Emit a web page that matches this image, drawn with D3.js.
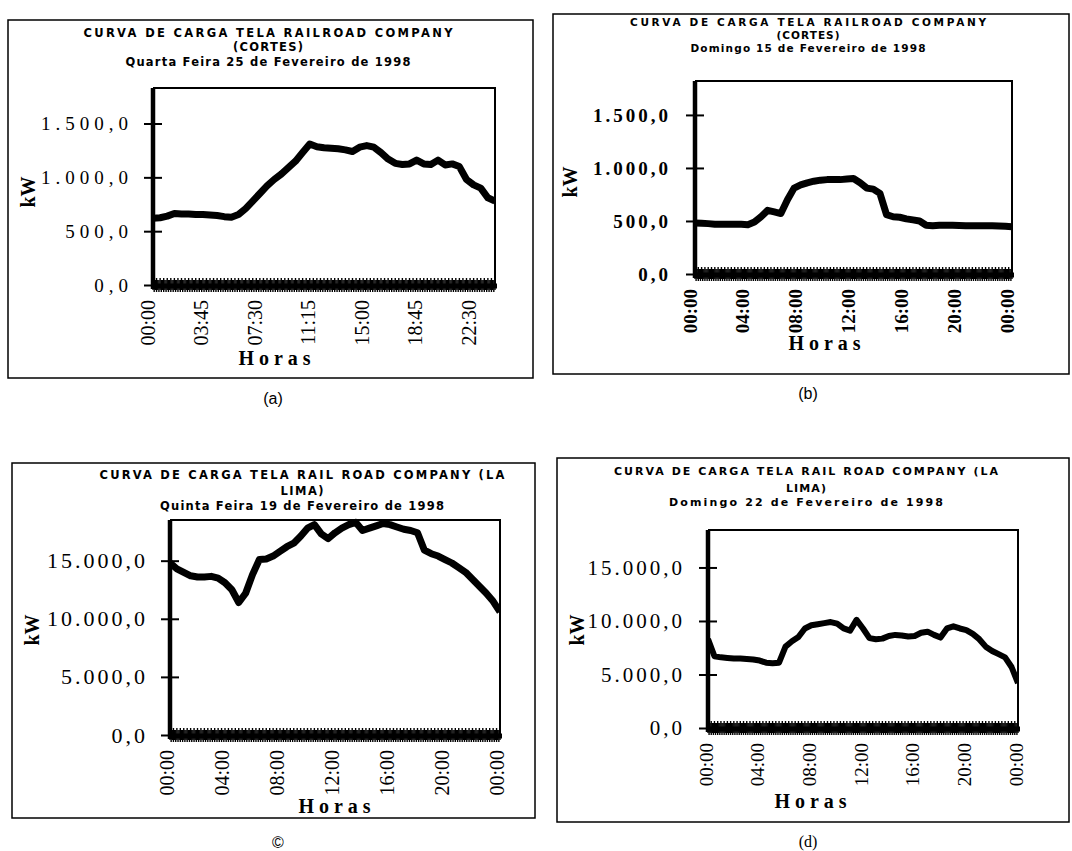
<!DOCTYPE html>
<html>
<head>
<meta charset="utf-8">
<script src="https://cdn.jsdelivr.net/npm/d3@7"></script>
<style>
  body { margin: 0; background: #fff; }
  text { fill: #000; }
</style>
</head>
<body>
<div id="chart"></div>
<script>
// Half-hour categories of the load curves
var horas = ["00:00","00:30","01:00","01:30","02:00","02:30","03:00","03:30","04:00","04:30",
  "05:00","05:30","06:00","06:30","07:00","07:30","08:00","08:30","09:00","09:30",
  "10:00","10:30","11:00","11:30","12:00","12:30","13:00","13:30","14:00","14:30",
  "15:00","15:30","16:00","16:30","17:00","17:30","18:00","18:30","19:00","19:30",
  "20:00","20:30","21:00","21:30","22:00","22:30","23:00","23:30","24:00"];

// kW values
var cargaA = [620,625,640,665,660,660,655,655,650,645,635,630,655,710,780,850,920,980,1030,1090,
  1150,1230,1310,1285,1275,1270,1265,1255,1240,1280,1295,1280,1230,1170,1130,1120,1125,1160,1125,1120,
  1160,1115,1125,1100,980,930,900,810,780];
var cargaB = [480,478,475,470,470,470,470,468,465,490,540,600,585,570,700,810,840,860,875,885,
  890,890,890,895,900,860,810,800,760,560,540,535,520,510,500,460,455,460,460,460,
  458,455,455,455,455,455,452,450,445];
var cargaC = [14800,14300,14000,13700,13600,13600,13650,13500,13100,12500,11400,12200,13800,15100,15150,15400,15800,16200,16500,17100,
  17800,18100,17300,16900,17400,17800,18100,18300,17600,17800,18000,18200,18100,17900,17700,17600,17400,15900,15600,15400,
  15100,14800,14400,14000,13400,12800,12200,11500,10600];
var cargaD = [8300,6700,6600,6550,6500,6500,6450,6400,6300,6100,6050,6100,7600,8100,8500,9300,9600,9700,9800,9900,
  9750,9300,9100,10100,9300,8400,8300,8350,8600,8700,8650,8550,8600,8900,9000,8700,8450,9300,9500,9300,
  9150,8800,8300,7600,7200,6900,6600,5700,4200];

// Tick labels
var xTicksA = [0, 3.75, 7.5, 11.25, 15, 18.75, 22.5];
var xLabelsA = ["00:00","03:45","07:30","11:15","15:00","18:45","22:30"];
var xTicksDia = [0, 4, 8, 12, 16, 20, 24];
var xLabelsDia = ["00:00","04:00","08:00","12:00","16:00","20:00","00:00"];
var yTicksCortes = [0, 500, 1000, 1500];
var yTicksLima = [0, 5000, 10000, 15000];

var titulosA = ["CURVA DE CARGA TELA RAILROAD COMPANY", "(CORTES)", "Quarta Feira 25 de Fevereiro de 1998"];
var titulosB = ["CURVA DE CARGA TELA RAILROAD COMPANY", "(CORTES)", "Domingo 15 de Fevereiro de 1998"];
var titulosC = ["CURVA DE CARGA TELA RAIL ROAD COMPANY (LA", "LIMA)", "Quinta Feira 19 de Fevereiro de 1998"];
var titulosD = ["CURVA DE CARGA TELA RAIL ROAD COMPANY (LA", "LIMA)", "Domingo 22 de Fevereiro de 1998"];

var horaNum = horas.map(function(s) { return +s.slice(0, 2) + (+s.slice(3)) / 60; });

var fmt = d3.formatLocale({decimal: ",", thousands: ".", grouping: [3], currency: ["", ""]}).format(",.1f");

var svg = d3.select("#chart").append("svg")
  .attr("width", 1072)
  .attr("height", 851);

// layout of each panel
var paineis = [
  {id: "a", dados: cargaA, titulos: titulosA, xTicks: xTicksA, xLabels: xLabelsA, yTicks: yTicksCortes, ymax: 1830,
   box: [8, 20, 533, 378], plot: [153, 88, 495, 285], tx: 268, ty: [37, 51, 66], tw: [369, 70, 285], tfs: 11.5,
   yfs: 19, ybold: false, yls: 5, ygap: 20, xfs: 20, xbold: false, xoff: -5,
   horas: [277, 365], kw: [28, 192], cap: "(a)", capPos: [273, 404], capFont: "Liberation Sans", sw: 7},
  {id: "b", dados: cargaB, titulos: titulosB, xTicks: xTicksDia, xLabels: xLabelsDia, yTicks: yTicksCortes, ymax: 1820,
   box: [553, 14, 1069, 374], plot: [695, 81, 1012, 274], tx: 808, ty: [26, 39, 52], tw: [356, 63, 235], tfs: 10.5,
   yfs: 19, ybold: true, yls: 3, ygap: 24, xfs: 19, xbold: true, xoff: -5,
   horas: [827, 350], kw: [570, 182], cap: "(b)", capPos: [808, 399], capFont: "Liberation Sans", sw: 7},
  {id: "c", dados: cargaC, titulos: titulosC, xTicks: xTicksDia, xLabels: xLabelsDia, yTicks: yTicksLima, ymax: 18500,
   box: [12, 463, 535, 818], plot: [170, 520, 500, 735], tx: 302, ty: [479, 495, 510], tw: [405, 43, 284], tfs: 11.5,
   yfs: 22, ybold: false, yls: 3, ygap: 22, xfs: 20, xbold: false, xoff: -3,
   horas: [337, 813], kw: [32, 630], cap: "\u00a9", capPos: [278, 848], capFont: "Liberation Sans", sw: 7},
  {id: "d", dados: cargaD, titulos: titulosD, xTicks: xTicksDia, xLabels: xLabelsDia, yTicks: yTicksLima, ymax: 18500,
   box: [557, 458, 1069, 822], plot: [708, 530, 1018, 728], tx: 806, ty: [475, 492, 506], tw: [384, 40, 274], tfs: 11,
   yfs: 21, ybold: false, yls: 3, ygap: 23, xfs: 19, xbold: false, xoff: -2,
   horas: [813, 808], kw: [577, 630], cap: "(d)", capPos: [808, 847], capFont: "Liberation Serif", sw: 6}
];

paineis.forEach(function(p) {
  var g = svg.append("g");
  var L = p.plot[0], T = p.plot[1], R = p.plot[2], B = p.plot[3];

  // outer frame
  g.append("rect")
    .attr("x", p.box[0]).attr("y", p.box[1])
    .attr("width", p.box[2] - p.box[0]).attr("height", p.box[3] - p.box[1])
    .attr("fill", "none").attr("stroke", "#000").attr("stroke-width", 1.5);

  // titles
  g.selectAll(".titulo").data(p.titulos).enter().append("text")
    .attr("x", p.tx)
    .attr("y", function(d, i) { return p.ty[i]; })
    .attr("text-anchor", "middle")
    .attr("font-family", "DejaVu Sans")
    .attr("font-weight", "bold")
    .attr("font-size", p.tfs)
    .attr("textLength", function(d, i) { return p.tw[i]; })
    .attr("lengthAdjust", "spacing")
    .text(function(d) { return d; });

  var x = d3.scaleLinear().domain([0, 24]).range([L, R]);
  var y = d3.scaleLinear().domain([0, p.ymax]).range([B, T]);

  // plot frame
  g.append("path")
    .attr("d", "M" + L + "," + T + "H" + R + "V" + B)
    .attr("fill", "none").attr("stroke", "#000").attr("stroke-width", 2);

  // clip for the series
  svg.append("clipPath").attr("id", "clip" + p.id)
    .append("rect").attr("x", L).attr("y", T - 2).attr("width", R - L).attr("height", B - T + 2);

  var linha = d3.line()
    .x(function(d, i) { return x(horaNum[i]); })
    .y(function(d) { return y(d); });

  g.append("path")
    .datum(p.dados)
    .attr("clip-path", "url(#clip" + p.id + ")")
    .attr("d", linha)
    .attr("fill", "none")
    .attr("stroke", "#000")
    .attr("stroke-width", p.sw)
    .attr("stroke-linejoin", "round");

  // dense hatched base line
  g.append("line").attr("x1", L).attr("x2", R + 2).attr("y1", B + 1).attr("y2", B + 1)
    .attr("stroke", "#000").attr("stroke-width", 5);
  g.selectAll(".hatch").data(d3.range(0, 24.001, 1 / 12)).enter().append("line")
    .attr("x1", function(d) { return x(d); }).attr("x2", function(d) { return x(d); })
    .attr("y1", function(d, i) { return B - (i % 3 ? 5 : 7); })
    .attr("y2", function(d, i) { return B + (i % 2 ? 7 : 5); })
    .attr("stroke", "#000").attr("stroke-width", 1.4);

  // y axis with crossing ticks
  var yAxis = g.append("g")
    .attr("transform", "translate(" + L + ",0)")
    .call(d3.axisLeft(y).tickValues(p.yTicks).tickFormat(fmt).tickSize(8));
  yAxis.select(".domain").remove();
  yAxis.selectAll(".tick line").attr("x1", -9).attr("x2", 9).attr("stroke-width", 2);
  yAxis.selectAll(".tick text")
    .attr("x", -p.ygap)
    .attr("font-family", "Liberation Serif")
    .attr("font-size", p.yfs)
    .attr("font-weight", p.ybold ? "bold" : "normal")
    .style("letter-spacing", p.yls + "px");
  g.append("line").attr("x1", L).attr("x2", L).attr("y1", T).attr("y2", B + 4)
    .attr("stroke", "#000").attr("stroke-width", 4.5);

  // rotated time labels
  g.selectAll(".xlab").data(p.xTicks).enter().append("text")
    .attr("transform", function(d) { return "translate(" + (x(d) + p.xoff) + "," + (B + 15) + ") rotate(-90)"; })
    .attr("text-anchor", "end")
    .attr("dominant-baseline", "central")
    .attr("font-family", "Liberation Serif")
    .attr("font-size", p.xfs)
    .attr("font-weight", p.xbold ? "bold" : "normal")
    .text(function(d, i) { return p.xLabels[i]; });

  // axis titles
  g.append("text")
    .attr("x", p.horas[0]).attr("y", p.horas[1])
    .attr("text-anchor", "middle")
    .attr("font-family", "Liberation Serif").attr("font-weight", "bold").attr("font-size", 20)
    .style("letter-spacing", "5px")
    .text("Horas");

  g.append("text")
    .attr("transform", "translate(" + p.kw[0] + "," + p.kw[1] + ") rotate(-90)")
    .attr("text-anchor", "middle")
    .attr("dominant-baseline", "central")
    .attr("font-family", "Liberation Serif").attr("font-weight", "bold").attr("font-size", 20)
    .text("kW");

  // caption
  g.append("text")
    .attr("x", p.capPos[0]).attr("y", p.capPos[1])
    .attr("text-anchor", "middle")
    .attr("font-family", p.capFont).attr("font-size", 16)
    .text(p.cap);
});
</script>
</body>
</html>
